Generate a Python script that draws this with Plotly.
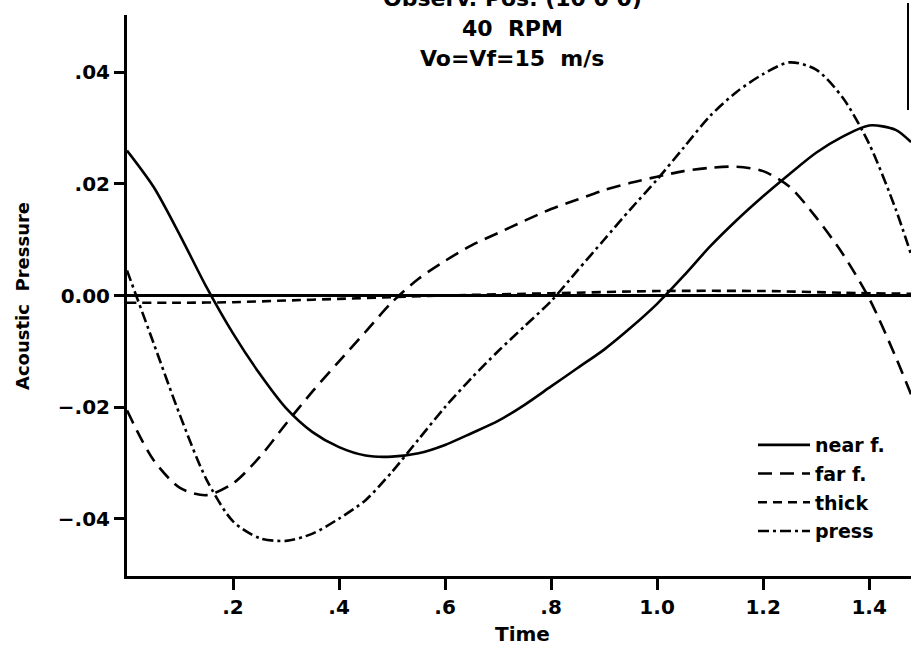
import plotly.graph_objects as go

# ---- data ----
near_t = [0.0, 0.05, 0.1, 0.15, 0.2, 0.25, 0.3, 0.35, 0.4, 0.45, 0.5, 0.55, 0.6, 0.65, 0.7, 0.75,
          0.8, 0.85, 0.9, 0.95, 1.0, 1.05, 1.1, 1.15, 1.2, 1.25, 1.3, 1.35, 1.4, 1.45, 1.479]
near_p = [0.026, 0.0195, 0.0108, 0.0015, -0.0068, -0.0140, -0.0202, -0.0245, -0.0272, -0.0287,
          -0.0289, -0.0283, -0.0268, -0.0247, -0.0225, -0.0196, -0.0163, -0.0130, -0.0097, -0.0058,
          -0.0015, 0.0035, 0.0088, 0.0135, 0.0178, 0.0218, 0.0256, 0.0285, 0.0305, 0.0297, 0.0275]

far_t = [0.0, 0.05, 0.1, 0.15, 0.2, 0.25, 0.3, 0.35, 0.4, 0.45, 0.5, 0.55, 0.6, 0.65, 0.7, 0.75,
         0.8, 0.85, 0.9, 0.95, 1.0, 1.05, 1.1, 1.15, 1.2, 1.25, 1.3, 1.35, 1.4, 1.45, 1.479]
far_p = [-0.0206, -0.0295, -0.0345, -0.0358, -0.0337, -0.0290, -0.0230, -0.0172, -0.0118, -0.0065,
         -0.0012, 0.0030, 0.0062, 0.0090, 0.0112, 0.0134, 0.0155, 0.0172, 0.0189, 0.0202, 0.0213,
         0.0223, 0.0229, 0.0231, 0.0223, 0.0195, 0.0140, 0.0075, -0.0005, -0.0110, -0.0177]

thick_t = [0.0, 0.1, 0.2, 0.3, 0.4, 0.5, 0.6, 0.8, 1.0, 1.2, 1.35, 1.479]
thick_p = [-0.0013, -0.0013, -0.0012, -0.0009, -0.0006, -0.0003, 0.0, 0.0004, 0.0008, 0.0008, 0.0005, 0.0003]

press_t = [0.0, 0.05, 0.1, 0.15, 0.2, 0.25, 0.3, 0.35, 0.4, 0.45, 0.5, 0.55, 0.6, 0.65, 0.7, 0.75,
           0.8, 0.85, 0.9, 0.95, 1.0, 1.05, 1.1, 1.15, 1.2, 1.25, 1.3, 1.35, 1.4, 1.45, 1.479]
press_p = [0.0045, -0.0085, -0.0215, -0.0330, -0.0405, -0.0435, -0.0440, -0.0427, -0.0400, -0.0367,
           -0.0316, -0.0258, -0.0200, -0.0148, -0.0100, -0.0055, -0.0010, 0.0045, 0.0100, 0.0155,
           0.0208, 0.0265, 0.0322, 0.0365, 0.0397, 0.0418, 0.0405, 0.0355, 0.0272, 0.0155, 0.0074]

x_tickvals = [0.2, 0.4, 0.6, 0.8, 1.0, 1.2, 1.4]
x_ticktext = [".2", ".4", ".6", ".8", "1.0", "1.2", "1.4"]
y_tickvals = [-0.04, -0.02, 0.0, 0.02, 0.04]
y_ticktext = ["\u2212.04", "\u2212.02", "0.00", ".02", ".04"]

title_lines = ["Observ. Pos. (10 0 0)", "40  RPM", "Vo=Vf=15  m/s"]

FONT = "DejaVu Sans"
W, H = 911, 652
L, R, T, B = 127, 0, 15, 76

fig = go.Figure()
series = [
    ("near f.", near_t, near_p, "solid"),
    ("far f.", far_t, far_p, "14px,8px"),
    ("thick", thick_t, thick_p, "9px,6px"),
    ("press", press_t, press_p, "11px,4px,3px,4px"),
]
for i, (name, t, p, dash) in enumerate(series):
    fig.add_trace(go.Scatter(
        x=t, y=p, mode="lines", name=name, legendgroup=f"g{i}",
        line=dict(color="black", width=2.6, dash=dash, shape="spline", smoothing=0.8),
    ))

fig.update_layout(
    width=W, height=H,
    margin=dict(l=L, r=R, t=T, b=B, pad=0),
    paper_bgcolor="white", plot_bgcolor="white",
    font=dict(family=FONT, color="black", size=18, weight="bold"),
    showlegend=True,
    legend=dict(
        x=(753 - L) / (W - L), y=(576 - 426) / (H - T - B), xanchor="left", yanchor="top",
        bgcolor="rgba(0,0,0,0)", borderwidth=0, itemwidth=52,
        font=dict(family=FONT, size=19, color="black", weight="bold"),
        tracegroupgap=1, traceorder="grouped",
    ),
    xaxis=dict(
        range=[0, 1.479], showgrid=False, zeroline=False,
        showline=True, linecolor="black", linewidth=3,
        ticks="outside", ticklen=11, tickwidth=2.5, tickcolor="black",
        tickvals=x_tickvals, ticktext=x_ticktext,
        tickfont=dict(family=FONT, size=20, color="black", weight="bold"),
    ),
    yaxis=dict(
        range=[-0.0503, 0.0503], showgrid=False,
        zeroline=True, zerolinecolor="black", zerolinewidth=3,
        showline=True, linecolor="black", linewidth=3,
        ticks="outside", ticklen=10, tickwidth=2.5, tickcolor="black",
        tickvals=y_tickvals, ticktext=y_ticktext,
        tickfont=dict(family=FONT, size=20, color="black", weight="bold"),
    ),
)

def py2paper(py):
    return (576 - py) / (H - T - B)

cx = (512 - L) / (W - L)
for line, yc in zip(title_lines, [-2, 28, 58]):
    fig.add_annotation(
        text=line, xref="paper", yref="paper", x=cx, y=py2paper(yc),
        xanchor="center", yanchor="middle", showarrow=False,
        font=dict(family=FONT, size=22, color="black", weight="bold"),
    )

fig.add_annotation(
    text="Time", xref="paper", yref="paper", x=(522 - L) / (W - L), y=py2paper(634),
    xanchor="center", yanchor="middle", showarrow=False,
    font=dict(family=FONT, size=20, color="black", weight="bold"),
)
fig.add_annotation(
    text="Acoustic  Pressure", xref="paper", yref="paper", x=(22 - L) / (W - L), y=py2paper(296),
    xanchor="center", yanchor="middle", showarrow=False, textangle=-90,
    font=dict(family=FONT, size=18, color="black", weight="bold"),
)

# partial frame edge at upper right of the scanned page
fig.add_shape(type="line", xref="paper", yref="paper",
              x0=(908 - L) / (W - L), x1=(908 - L) / (W - L),
              y0=py2paper(110), y1=py2paper(3),
              line=dict(color="black", width=2))

fig.write_html("out.html")
